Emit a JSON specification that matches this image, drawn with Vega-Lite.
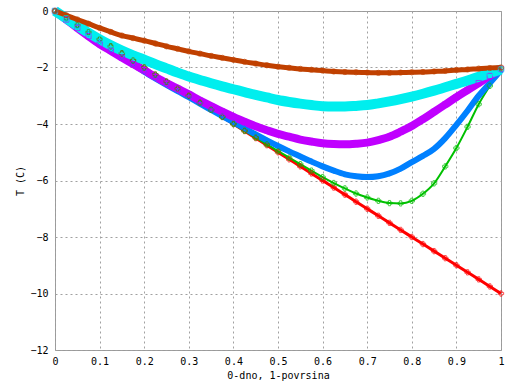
{
"$schema": "https://vega.github.io/schema/vega-lite/v6.json",
"width": 446, "height": 339,
"autosize": {"type": "none"},
"padding": {"left": 55, "top": 11, "right": 11, "bottom": 34},
"background": "white",
"config": {
 "view": {"stroke": "#999999", "strokeWidth": 1},
 "font": "DejaVu Sans Mono",
 "axis": {"labelFont": "DejaVu Sans Mono", "labelFontSize": 10, "labelColor": "#000000", "titleFont": "DejaVu Sans Mono", "titleFontSize": 10, "titleFontWeight": "normal", "titleColor": "#000000", "domain": false, "ticks": false, "grid": true, "gridColor": "#a0a0a0", "gridDash": [2, 3], "gridWidth": 1},
 "legend": {"labelFont": "DejaVu Sans Mono", "labelFontSize": 9.5, "labelColor": "#000000", "rowPadding": 0.7, "symbolStrokeWidth": 1}
},
"data": {"values": [
{"s":"zacetni profil","x":0,"t":0},{"s":"zacetni profil","x":0.025,"t":-0.25},{"s":"zacetni profil","x":0.05,"t":-0.5},{"s":"zacetni profil","x":0.075,"t":-0.75},{"s":"zacetni profil","x":0.1,"t":-1},{"s":"zacetni profil","x":0.125,"t":-1.25},{"s":"zacetni profil","x":0.15,"t":-1.5},{"s":"zacetni profil","x":0.175,"t":-1.75},{"s":"zacetni profil","x":0.2,"t":-2},{"s":"zacetni profil","x":0.225,"t":-2.25},{"s":"zacetni profil","x":0.25,"t":-2.5},{"s":"zacetni profil","x":0.275,"t":-2.75},{"s":"zacetni profil","x":0.3,"t":-3},{"s":"zacetni profil","x":0.325,"t":-3.25},{"s":"zacetni profil","x":0.35,"t":-3.5},{"s":"zacetni profil","x":0.375,"t":-3.75},{"s":"zacetni profil","x":0.4,"t":-4},{"s":"zacetni profil","x":0.425,"t":-4.25},{"s":"zacetni profil","x":0.45,"t":-4.5},{"s":"zacetni profil","x":0.475,"t":-4.75},{"s":"zacetni profil","x":0.5,"t":-5},{"s":"zacetni profil","x":0.525,"t":-5.25},{"s":"zacetni profil","x":0.55,"t":-5.5},{"s":"zacetni profil","x":0.575,"t":-5.75},{"s":"zacetni profil","x":0.6,"t":-6},{"s":"zacetni profil","x":0.625,"t":-6.25},{"s":"zacetni profil","x":0.65,"t":-6.5},{"s":"zacetni profil","x":0.675,"t":-6.75},{"s":"zacetni profil","x":0.7,"t":-7},{"s":"zacetni profil","x":0.725,"t":-7.25},{"s":"zacetni profil","x":0.75,"t":-7.5},{"s":"zacetni profil","x":0.775,"t":-7.75},{"s":"zacetni profil","x":0.8,"t":-8},{"s":"zacetni profil","x":0.825,"t":-8.25},{"s":"zacetni profil","x":0.85,"t":-8.5},{"s":"zacetni profil","x":0.875,"t":-8.75},{"s":"zacetni profil","x":0.9,"t":-9},{"s":"zacetni profil","x":0.925,"t":-9.25},{"s":"zacetni profil","x":0.95,"t":-9.5},{"s":"zacetni profil","x":0.975,"t":-9.75},{"s":"zacetni profil","x":1,"t":-10},
{"s":"7h","x":0,"t":0},{"s":"7h","x":0.025,"t":-0.25},{"s":"7h","x":0.05,"t":-0.5},{"s":"7h","x":0.075,"t":-0.75},{"s":"7h","x":0.1,"t":-1},{"s":"7h","x":0.125,"t":-1.25},{"s":"7h","x":0.15,"t":-1.5},{"s":"7h","x":0.175,"t":-1.75},{"s":"7h","x":0.2,"t":-2},{"s":"7h","x":0.225,"t":-2.25},{"s":"7h","x":0.25,"t":-2.5},{"s":"7h","x":0.275,"t":-2.75},{"s":"7h","x":0.3,"t":-3},{"s":"7h","x":0.325,"t":-3.25},{"s":"7h","x":0.35,"t":-3.5},{"s":"7h","x":0.375,"t":-3.75},{"s":"7h","x":0.4,"t":-4},{"s":"7h","x":0.425,"t":-4.24},{"s":"7h","x":0.45,"t":-4.48},{"s":"7h","x":0.475,"t":-4.72},{"s":"7h","x":0.5,"t":-4.96},{"s":"7h","x":0.525,"t":-5.19},{"s":"7h","x":0.55,"t":-5.42},{"s":"7h","x":0.575,"t":-5.65},{"s":"7h","x":0.6,"t":-5.88},{"s":"7h","x":0.625,"t":-6.09},{"s":"7h","x":0.65,"t":-6.28},{"s":"7h","x":0.675,"t":-6.46},{"s":"7h","x":0.7,"t":-6.6},{"s":"7h","x":0.725,"t":-6.72},{"s":"7h","x":0.75,"t":-6.8},{"s":"7h","x":0.775,"t":-6.81},{"s":"7h","x":0.8,"t":-6.72},{"s":"7h","x":0.825,"t":-6.47},{"s":"7h","x":0.85,"t":-6.1},{"s":"7h","x":0.875,"t":-5.5},{"s":"7h","x":0.9,"t":-4.85},{"s":"7h","x":0.925,"t":-4.1},{"s":"7h","x":0.95,"t":-3.3},{"s":"7h","x":0.975,"t":-2.65},{"s":"7h","x":1,"t":-2.05},
{"s":"14h","x":0,"t":0},{"s":"14h","x":0.025,"t":-0.27},{"s":"14h","x":0.05,"t":-0.55},{"s":"14h","x":0.075,"t":-0.82},{"s":"14h","x":0.1,"t":-1.1},{"s":"14h","x":0.125,"t":-1.37},{"s":"14h","x":0.15,"t":-1.63},{"s":"14h","x":0.175,"t":-1.89},{"s":"14h","x":0.2,"t":-2.15},{"s":"14h","x":0.225,"t":-2.39},{"s":"14h","x":0.25,"t":-2.62},{"s":"14h","x":0.275,"t":-2.84},{"s":"14h","x":0.3,"t":-3.05},{"s":"14h","x":0.325,"t":-3.28},{"s":"14h","x":0.35,"t":-3.5},{"s":"14h","x":0.375,"t":-3.72},{"s":"14h","x":0.4,"t":-3.93},{"s":"14h","x":0.425,"t":-4.15},{"s":"14h","x":0.45,"t":-4.37},{"s":"14h","x":0.475,"t":-4.58},{"s":"14h","x":0.5,"t":-4.78},{"s":"14h","x":0.525,"t":-4.97},{"s":"14h","x":0.55,"t":-5.15},{"s":"14h","x":0.575,"t":-5.33},{"s":"14h","x":0.6,"t":-5.5},{"s":"14h","x":0.625,"t":-5.65},{"s":"14h","x":0.65,"t":-5.78},{"s":"14h","x":0.675,"t":-5.85},{"s":"14h","x":0.7,"t":-5.88},{"s":"14h","x":0.725,"t":-5.85},{"s":"14h","x":0.75,"t":-5.75},{"s":"14h","x":0.775,"t":-5.58},{"s":"14h","x":0.8,"t":-5.35},{"s":"14h","x":0.825,"t":-5.13},{"s":"14h","x":0.85,"t":-4.88},{"s":"14h","x":0.875,"t":-4.5},{"s":"14h","x":0.9,"t":-4.03},{"s":"14h","x":0.925,"t":-3.53},{"s":"14h","x":0.95,"t":-3.0},{"s":"14h","x":0.975,"t":-2.55},{"s":"14h","x":1,"t":-2.1},
{"s":"30h","x":0,"t":0},{"s":"30h","x":0.025,"t":-0.3},{"s":"30h","x":0.05,"t":-0.6},{"s":"30h","x":0.075,"t":-0.89},{"s":"30h","x":0.1,"t":-1.17},{"s":"30h","x":0.125,"t":-1.41},{"s":"30h","x":0.15,"t":-1.65},{"s":"30h","x":0.175,"t":-1.88},{"s":"30h","x":0.2,"t":-2.1},{"s":"30h","x":0.225,"t":-2.33},{"s":"30h","x":0.25,"t":-2.55},{"s":"30h","x":0.275,"t":-2.75},{"s":"30h","x":0.3,"t":-2.95},{"s":"30h","x":0.325,"t":-3.17},{"s":"30h","x":0.35,"t":-3.37},{"s":"30h","x":0.375,"t":-3.56},{"s":"30h","x":0.4,"t":-3.75},{"s":"30h","x":0.425,"t":-3.92},{"s":"30h","x":0.45,"t":-4.08},{"s":"30h","x":0.475,"t":-4.22},{"s":"30h","x":0.5,"t":-4.35},{"s":"30h","x":0.525,"t":-4.45},{"s":"30h","x":0.55,"t":-4.55},{"s":"30h","x":0.575,"t":-4.62},{"s":"30h","x":0.6,"t":-4.68},{"s":"30h","x":0.625,"t":-4.71},{"s":"30h","x":0.65,"t":-4.72},{"s":"30h","x":0.675,"t":-4.7},{"s":"30h","x":0.7,"t":-4.66},{"s":"30h","x":0.725,"t":-4.57},{"s":"30h","x":0.75,"t":-4.45},{"s":"30h","x":0.775,"t":-4.27},{"s":"30h","x":0.8,"t":-4.07},{"s":"30h","x":0.825,"t":-3.83},{"s":"30h","x":0.85,"t":-3.57},{"s":"30h","x":0.875,"t":-3.31},{"s":"30h","x":0.9,"t":-3.05},{"s":"30h","x":0.925,"t":-2.8},{"s":"30h","x":0.95,"t":-2.55},{"s":"30h","x":0.975,"t":-2.3},{"s":"30h","x":1,"t":-2.05},
{"s":"2.5 dni","x":0,"t":0},{"s":"2.5 dni","x":0.025,"t":-0.26},{"s":"2.5 dni","x":0.05,"t":-0.52},{"s":"2.5 dni","x":0.075,"t":-0.77},{"s":"2.5 dni","x":0.1,"t":-1.0},{"s":"2.5 dni","x":0.125,"t":-1.21},{"s":"2.5 dni","x":0.15,"t":-1.4},{"s":"2.5 dni","x":0.175,"t":-1.57},{"s":"2.5 dni","x":0.2,"t":-1.72},{"s":"2.5 dni","x":0.225,"t":-1.88},{"s":"2.5 dni","x":0.25,"t":-2.03},{"s":"2.5 dni","x":0.275,"t":-2.18},{"s":"2.5 dni","x":0.3,"t":-2.32},{"s":"2.5 dni","x":0.325,"t":-2.44},{"s":"2.5 dni","x":0.35,"t":-2.56},{"s":"2.5 dni","x":0.375,"t":-2.67},{"s":"2.5 dni","x":0.4,"t":-2.77},{"s":"2.5 dni","x":0.425,"t":-2.87},{"s":"2.5 dni","x":0.45,"t":-2.97},{"s":"2.5 dni","x":0.475,"t":-3.06},{"s":"2.5 dni","x":0.5,"t":-3.15},{"s":"2.5 dni","x":0.525,"t":-3.22},{"s":"2.5 dni","x":0.55,"t":-3.28},{"s":"2.5 dni","x":0.575,"t":-3.33},{"s":"2.5 dni","x":0.6,"t":-3.37},{"s":"2.5 dni","x":0.625,"t":-3.38},{"s":"2.5 dni","x":0.65,"t":-3.38},{"s":"2.5 dni","x":0.675,"t":-3.36},{"s":"2.5 dni","x":0.7,"t":-3.33},{"s":"2.5 dni","x":0.725,"t":-3.27},{"s":"2.5 dni","x":0.75,"t":-3.2},{"s":"2.5 dni","x":0.775,"t":-3.12},{"s":"2.5 dni","x":0.8,"t":-3.03},{"s":"2.5 dni","x":0.825,"t":-2.93},{"s":"2.5 dni","x":0.85,"t":-2.82},{"s":"2.5 dni","x":0.875,"t":-2.7},{"s":"2.5 dni","x":0.9,"t":-2.58},{"s":"2.5 dni","x":0.925,"t":-2.46},{"s":"2.5 dni","x":0.95,"t":-2.33},{"s":"2.5 dni","x":0.975,"t":-2.2},{"s":"2.5 dni","x":1,"t":-2.07},
{"s":"5 dni","x":0,"t":0},{"s":"5 dni","x":0.025,"t":-0.15},{"s":"5 dni","x":0.05,"t":-0.3},{"s":"5 dni","x":0.075,"t":-0.45},{"s":"5 dni","x":0.1,"t":-0.6},{"s":"5 dni","x":0.125,"t":-0.74},{"s":"5 dni","x":0.15,"t":-0.87},{"s":"5 dni","x":0.175,"t":-0.96},{"s":"5 dni","x":0.2,"t":-1.05},{"s":"5 dni","x":0.225,"t":-1.15},{"s":"5 dni","x":0.25,"t":-1.25},{"s":"5 dni","x":0.275,"t":-1.34},{"s":"5 dni","x":0.3,"t":-1.43},{"s":"5 dni","x":0.325,"t":-1.51},{"s":"5 dni","x":0.35,"t":-1.59},{"s":"5 dni","x":0.375,"t":-1.66},{"s":"5 dni","x":0.4,"t":-1.73},{"s":"5 dni","x":0.425,"t":-1.8},{"s":"5 dni","x":0.45,"t":-1.86},{"s":"5 dni","x":0.475,"t":-1.92},{"s":"5 dni","x":0.5,"t":-1.97},{"s":"5 dni","x":0.525,"t":-2.01},{"s":"5 dni","x":0.55,"t":-2.05},{"s":"5 dni","x":0.575,"t":-2.08},{"s":"5 dni","x":0.6,"t":-2.11},{"s":"5 dni","x":0.625,"t":-2.14},{"s":"5 dni","x":0.65,"t":-2.16},{"s":"5 dni","x":0.675,"t":-2.17},{"s":"5 dni","x":0.7,"t":-2.18},{"s":"5 dni","x":0.725,"t":-2.19},{"s":"5 dni","x":0.75,"t":-2.19},{"s":"5 dni","x":0.775,"t":-2.18},{"s":"5 dni","x":0.8,"t":-2.17},{"s":"5 dni","x":0.825,"t":-2.16},{"s":"5 dni","x":0.85,"t":-2.14},{"s":"5 dni","x":0.875,"t":-2.12},{"s":"5 dni","x":0.9,"t":-2.09},{"s":"5 dni","x":0.925,"t":-2.07},{"s":"5 dni","x":0.95,"t":-2.04},{"s":"5 dni","x":0.975,"t":-2.02},{"s":"5 dni","x":1,"t":-2.0}
]},
"encoding": {
 "x": {"field": "x", "type": "quantitative", "scale": {"domain": [0, 1], "nice": false, "zero": false},
  "axis": {"values": [0,0.1,0.2,0.3,0.4,0.5,0.6,0.7,0.8,0.9,1], "format": "~g", "title": "0-dno, 1-povrsina", "labelPadding": 6, "titlePadding": 4, "labelFlush": false}},
 "y": {"field": "t", "type": "quantitative", "scale": {"domain": [-12, 0], "nice": false, "zero": false},
  "axis": {"values": [-12,-10,-8,-6,-4,-2,0], "format": "d", "title": "T (C)", "labelPadding": 7, "titlePadding": 4, "labelFlush": false}}
},
"layer": [
 {"mark": {"type": "line", "interpolate": "monotone", "strokeCap": "butt"},
  "encoding": {
   "stroke": {"field": "s", "type": "nominal", "scale": {"domain": ["zacetni profil","7h","14h","30h","2.5 dni","5 dni"], "range": ["#ff0000","#00c000","#0080ff","#c000ff","#00eeee","#c04000"]}, "legend": null},
   "strokeWidth": {"field": "s", "type": "nominal", "scale": {"type": "ordinal", "domain": ["zacetni profil","7h","14h","30h","2.5 dni","5 dni"], "range": [3, 2, 6, 8, 10, 5]}, "legend": null}
  }},
 {"mark": {"type": "point", "filled": false, "size": 28, "strokeWidth": 1},
  "encoding": {
   "color": {"field": "s", "type": "nominal", "scale": {"domain": ["zacetni profil","7h","14h","30h","2.5 dni","5 dni"], "range": ["#ff0000","#00c000","#0080ff","#c000ff","#00eeee","#c04000"]},
     "legend": {"title": null, "orient": "bottom-left", "offset": 3, "padding": 1, "labelAlign": "right", "labelOffset": 73, "symbolOffset": 95, "fillColor": "#ffffff"}},
   "shape": {"field": "s", "type": "nominal", "scale": {"domain": ["zacetni profil","7h","14h","30h","2.5 dni","5 dni"], "range": ["cross", "cross", "diamond", "square", "square", "circle"]},
     "legend": {"title": null, "orient": "bottom-left", "offset": 3, "padding": 1, "labelAlign": "right", "labelOffset": 73, "symbolOffset": 95, "fillColor": "#ffffff"}}
  }}
]
}
